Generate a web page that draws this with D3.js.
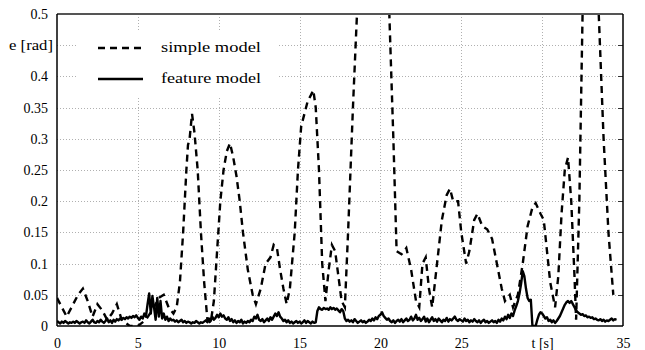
<!DOCTYPE html>
<html>
<head>
<meta charset="utf-8">
<script src="https://cdn.jsdelivr.net/npm/d3@7"></script>
<style>
  html, body { margin: 0; padding: 0; background: #fff; }
  svg { display: block; }
  svg text { font-family: "Liberation Serif", "Times New Roman", Tinos, "DejaVu Serif", "Noto Serif", serif !important; fill: #000; }
</style>
</head>
<body>
<svg id="chart" width="645" height="350"></svg>
<script>
// ---------- data ----------
const xTicks = [0, 5, 10, 15, 20, 25, 30, 35];
const xTickLabels = ["0", "5", "10", "15", "20", "25", "t [s]", "35"];
const yTicks = [0, 0.05, 0.1, 0.15, 0.2, 0.25, 0.3, 0.35, 0.4, 0.45, 0.5];
const yTickLabels = ["0", "0.05", "0.1", "0.15", "0.2", "0.25", "0.3", "0.35", "0.4", "e [rad]", "0.5"];
const seriesNames = ["simple model", "feature model"];

// simple model: sample times and errors
const simpleT = [0, 0.3, 0.6, 0.9, 1.3, 1.6, 1.9, 2.2, 2.5, 2.8, 3.1, 3.4, 3.7, 4.0, 4.5, 5.0, 5.5, 6.0, 6.3, 6.6, 6.9, 7.2, 7.4, 7.6, 7.8, 8.0, 8.1, 8.2, 8.35, 8.5, 8.7, 8.9, 9.1, 9.3, 9.5, 9.7, 9.9, 10.1, 10.3, 10.5, 10.7, 10.9, 11.1, 11.3, 11.5, 11.8, 12.1, 12.3, 12.6, 12.9, 13.2, 13.4, 13.6, 13.8, 14.0, 14.2, 14.4, 14.7, 14.9, 15.1, 15.3, 15.5, 15.7, 15.85, 16.0, 16.2, 16.4, 16.6, 16.8, 17.0, 17.2, 17.4, 17.6, 17.8, 18.0, 18.3, 18.55, 18.8, 19.5, 20.2, 20.55, 20.8, 21.0, 21.3, 21.6, 21.9, 22.2, 22.4, 22.6, 22.8, 23.0, 23.2, 23.5, 23.8, 24.1, 24.3, 24.5, 24.8, 25.0, 25.3, 25.5, 25.8, 26.0, 26.3, 26.6, 26.9, 27.2, 27.5, 27.7, 28.0, 28.2, 28.5, 28.8, 29.1, 29.4, 29.6, 29.9, 30.1, 30.3, 30.5, 30.8, 31.0, 31.2, 31.4, 31.6, 31.8, 32.0, 32.1, 32.3, 32.5, 32.8, 33.2, 33.5, 33.8, 34.1, 34.4];
const simpleE = [0.045, 0.03, 0.015, 0.03, 0.05, 0.06, 0.04, 0.015, 0.035, 0.025, 0.01, 0.02, 0.035, 0.01, 0.0, 0.0, 0.01, 0.03, 0.045, 0.05, 0.03, 0.02, 0.03, 0.07, 0.15, 0.25, 0.29, 0.3, 0.34, 0.31, 0.25, 0.15, 0.07, 0.01, 0.005, 0.04, 0.12, 0.2, 0.25, 0.28, 0.293, 0.27, 0.24, 0.2, 0.15, 0.09, 0.05, 0.035, 0.06, 0.1, 0.11, 0.13, 0.125, 0.09, 0.06, 0.035, 0.06, 0.15, 0.25, 0.32, 0.34, 0.36, 0.37, 0.378, 0.35, 0.25, 0.1, 0.04, 0.09, 0.13, 0.12, 0.08, 0.04, 0.03, 0.15, 0.35, 0.5, 0.65, 0.8, 0.65, 0.5, 0.3, 0.12, 0.115, 0.125, 0.09, 0.04, 0.03, 0.1, 0.11, 0.06, 0.03, 0.1, 0.17, 0.21, 0.22, 0.2, 0.2, 0.15, 0.1, 0.12, 0.17, 0.18, 0.16, 0.155, 0.14, 0.1, 0.06, 0.04, 0.05, 0.03, 0.05, 0.1, 0.16, 0.19, 0.197, 0.18, 0.17, 0.12, 0.07, 0.03, 0.08, 0.18, 0.25, 0.27, 0.2, 0.08, 0.01, 0.2, 0.5, 0.7, 0.7, 0.5, 0.3, 0.15, 0.05];

// feature model: sampled every 0.1 s from t = 0
const featureStep = 0.1;
const featureE = [
  0.008,0.006,0.004,0.007,0.005,0.008,0.006,0.004,0.006,0.005,
  0.007,0.005,0.008,0.006,0.004,0.006,0.007,0.005,0.009,0.006,
  0.004,0.007,0.010,0.006,0.005,0.008,0.006,0.010,0.007,0.005,
  0.008,0.012,0.006,0.009,0.005,0.010,0.007,0.011,0.009,0.012,
  0.010,0.013,0.011,0.014,0.012,0.015,0.013,0.016,0.014,0.017,
  0.013,0.010,0.015,0.012,0.020,0.015,0.035,0.052,0.020,0.048,
  0.030,0.010,0.045,0.015,0.040,0.012,0.020,0.010,0.015,0.008,
  0.012,0.009,0.010,0.007,0.009,0.006,0.008,0.010,0.006,0.008,
  0.005,0.007,0.006,0.004,0.006,0.005,0.008,0.006,0.004,0.006,
  0.005,0.007,0.009,0.006,0.012,0.008,0.015,0.010,0.013,0.018,
  0.014,0.020,0.015,0.017,0.012,0.010,0.014,0.008,0.011,0.006,
  0.009,0.005,0.008,0.006,0.010,0.004,0.007,0.005,0.008,0.006,
  0.010,0.008,0.015,0.012,0.018,0.010,0.008,0.011,0.006,0.009,
  0.012,0.008,0.014,0.010,0.015,0.020,0.016,0.022,0.015,0.012,
  0.008,0.010,0.006,0.009,0.005,0.007,0.004,0.006,0.008,0.005,
  0.007,0.004,0.006,0.009,0.005,0.008,0.006,0.004,0.007,0.005,
  0.006,0.024,0.030,0.027,0.026,0.029,0.027,0.028,0.026,0.030,
  0.027,0.029,0.026,0.028,0.025,0.022,0.027,0.024,0.012,0.008,
  0.010,0.007,0.009,0.006,0.011,0.008,0.005,0.007,0.009,0.006,
  0.008,0.005,0.007,0.010,0.008,0.012,0.009,0.014,0.011,0.016,
  0.018,0.022,0.016,0.013,0.010,0.012,0.008,0.006,0.009,0.005,
  0.008,0.010,0.007,0.011,0.006,0.009,0.012,0.008,0.010,0.015,
  0.009,0.012,0.018,0.010,0.013,0.008,0.011,0.015,0.007,0.012,
  0.006,0.010,0.014,0.008,0.011,0.007,0.012,0.009,0.006,0.010,
  0.008,0.013,0.007,0.011,0.009,0.012,0.015,0.010,0.008,0.011,
  0.009,0.007,0.012,0.008,0.010,0.006,0.009,0.007,0.011,0.008,
  0.006,0.009,0.005,0.008,0.010,0.006,0.008,0.005,0.007,0.009,
  0.006,0.008,0.005,0.010,0.007,0.012,0.009,0.015,0.011,0.018,
  0.013,0.020,0.016,0.025,0.032,0.040,0.052,0.068,0.088,0.080,
  0.060,0.045,0.040,0.042,0.000,0.000,0.000,0.010,0.018,0.022,
  0.020,0.016,0.012,0.014,0.008,0.010,0.006,0.009,0.005,0.008,
  0.012,0.016,0.022,0.028,0.034,0.038,0.040,0.037,0.040,0.035,
  0.030,0.025,0.022,0.020,0.018,0.019,0.016,0.017,0.014,0.015,
  0.013,0.014,0.011,0.012,0.010,0.009,0.011,0.008,0.010,0.007,
  0.009,0.008,0.010,0.012,0.009,0.011,0.010
];

// ---------- layout ----------
const W = 645, H = 350;
const plot = { left: 57, right: 623, top: 14, bottom: 326 };
const FONT = "'Liberation Serif', 'Times New Roman', Tinos, 'DejaVu Serif', serif";

const x = d3.scaleLinear().domain([0, 35]).range([plot.left, plot.right]);
const y = d3.scaleLinear().domain([0, 0.5]).range([plot.bottom, plot.top]);

const svg = d3.select("#chart");
svg.append("rect").attr("width", W).attr("height", H).attr("fill", "#fff");

svg.append("defs").append("clipPath").attr("id", "clip")
  .append("rect")
  .attr("x", plot.left).attr("y", plot.top)
  .attr("width", plot.right - plot.left).attr("height", plot.bottom - plot.top);

// grid
const grid = svg.append("g");
grid.selectAll("line.h").data(yTicks.filter(v => v > 0 && v < 0.5)).join("line")
  .attr("x1", plot.left).attr("x2", plot.right)
  .attr("y1", d => Math.round(y(d)) + 0.5).attr("y2", d => Math.round(y(d)) + 0.5)
  .attr("stroke", "#b0b0b0").attr("stroke-width", 1).attr("stroke-dasharray", "1,2");
grid.selectAll("line.v").data(xTicks.filter(v => v > 0 && v < 35)).join("line")
  .attr("x1", d => Math.round(x(d)) + 0.5).attr("x2", d => Math.round(x(d)) + 0.5)
  .attr("y1", plot.top).attr("y2", plot.bottom)
  .attr("stroke", "#b0b0b0").attr("stroke-width", 1).attr("stroke-dasharray", "1,2");

// mirror ticks on right
const tickG = svg.append("g");
tickG.selectAll("line.r").data(yTicks.filter(v => v > 0 && v < 0.5)).join("line")
  .attr("x1", plot.right - 5).attr("x2", plot.right)
  .attr("y1", d => Math.round(y(d)) + 0.5).attr("y2", d => Math.round(y(d)) + 0.5)
  .attr("stroke", "#333").attr("stroke-width", 1);

// legend background box (hides grid)
const legendBox = { x0: 77, x1: 278, y0: 30, y1: 97 };
svg.append("rect")
  .attr("x", legendBox.x0).attr("y", legendBox.y0)
  .attr("width", legendBox.x1 - legendBox.x0).attr("height", legendBox.y1 - legendBox.y0)
  .attr("fill", "#fff");

// lines
const lineGen = d3.line().x(d => x(d[0])).y(d => y(d[1]));
const simpleData = simpleT.map((t, i) => [t, simpleE[i]]);
const featureData = featureE.map((v, i) => [i * featureStep, v]);

const lines = svg.append("g").attr("clip-path", "url(#clip)");
lines.append("path").datum(featureData)
  .attr("d", lineGen).attr("fill", "none")
  .attr("stroke", "#000").attr("stroke-width", 2.4).attr("stroke-linejoin", "round");
lines.append("path").datum(simpleData)
  .attr("d", lineGen).attr("fill", "none")
  .attr("stroke", "#000").attr("stroke-width", 2.4).attr("stroke-dasharray", "7,5");

// frame
svg.append("line").attr("x1", plot.left).attr("x2", plot.right)
  .attr("y1", plot.top).attr("y2", plot.top).attr("stroke", "#555").attr("stroke-width", 2);
svg.append("line").attr("x1", plot.left).attr("x2", plot.right)
  .attr("y1", plot.bottom).attr("y2", plot.bottom).attr("stroke", "#000").attr("stroke-width", 1.5);
svg.append("line").attr("x1", plot.left).attr("x2", plot.left)
  .attr("y1", plot.top).attr("y2", plot.bottom).attr("stroke", "#000").attr("stroke-width", 1.5);
svg.append("line").attr("x1", plot.right).attr("x2", plot.right)
  .attr("y1", plot.top).attr("y2", plot.bottom).attr("stroke", "#000").attr("stroke-width", 1.5);

// axis labels via d3 axes (no domain / tick lines)
const xAxis = d3.axisBottom(x).tickValues(xTicks)
  .tickFormat((d, i) => xTickLabels[i]).tickSize(0).tickPadding(0);
const gx = svg.append("g").attr("transform", `translate(0,${plot.bottom + 12})`).call(xAxis);
gx.attr("font-family", FONT).attr("font-size", 14);
gx.select(".domain").remove();
gx.selectAll("text").style("font-family", FONT).style("font-size", "14px").attr("fill", "#000").attr("dy", "0.71em");

const yAxis = d3.axisLeft(y).tickValues(yTicks)
  .tickFormat((d, i) => yTickLabels[i]).tickSize(0).tickPadding(9);
const gy = svg.append("g").attr("transform", `translate(${plot.left},0)`).call(yAxis);
gy.attr("font-family", FONT).attr("font-size", 14);
gy.select(".domain").remove();
gy.selectAll("text").style("font-family", FONT).style("font-size", "14px").attr("fill", "#000");
gy.selectAll("text").filter((d, i) => yTickLabels[i] === "e [rad]")
  .attr("dx", 5).attr("textLength", 44).attr("lengthAdjust", "spacingAndGlyphs");

// legend
const legend = svg.append("g");
const legendRows = [
  { name: seriesNames[0], dash: "7,5", ly: 48 },
  { name: seriesNames[1], dash: null, ly: 79 }
];
legendRows.forEach(r => {
  legend.append("line")
    .attr("x1", 98).attr("x2", 143).attr("y1", r.ly).attr("y2", r.ly)
    .attr("stroke", "#000").attr("stroke-width", 2.6)
    .attr("stroke-dasharray", r.dash);
  legend.append("text")
    .attr("x", 161).attr("y", r.ly + 4)
    .style("font-family", FONT).style("font-size", "14px")
    .attr("textLength", 100).attr("lengthAdjust", "spacingAndGlyphs")
    .text(r.name);
});
</script>
</body>
</html>
